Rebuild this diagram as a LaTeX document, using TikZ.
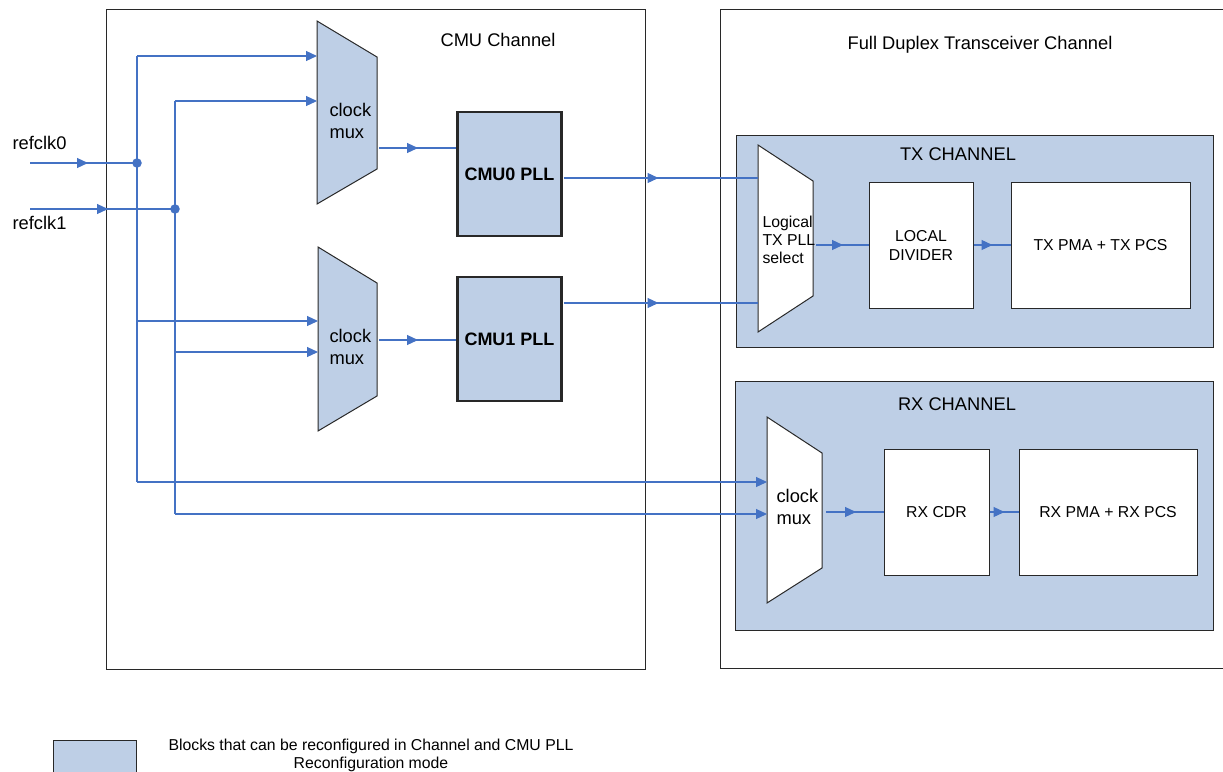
\documentclass[tikz,border=0pt]{standalone}
\usepackage{fontspec}
\setmainfont{Liberation Sans}
\usetikzlibrary{arrows.meta,decorations.markings}
\definecolor{blk}{RGB}{190,207,230}
\definecolor{wire}{RGB}{68,114,196}
\definecolor{edge}{RGB}{40,40,40}
\tikzset{
  big/.style={font=\fontsize{18.3}{22}\selectfont},
  small/.style={font=\fontsize{15.8}{19}\selectfont},
  frame/.style={draw=edge,line width=1pt},
  blkfill/.style={fill=blk,draw=edge,line width=1pt},
  wbox/.style={fill=white,draw=edge,line width=1pt},
  plbox/.style={fill=blk,draw=edge,line width=2.5pt},
  wireline/.style={draw=wire,line width=1.2pt},
  endarr/.style={wireline,-{Triangle[length=11pt,width=10pt]}},
  midarr/.style={wireline,postaction={decorate},decoration={markings,mark=at position #1 with {\arrow{Triangle[length=11pt,width=10pt]}}}},
  jdot/.style={circle,fill=wire,draw=none,inner sep=0pt,minimum size=9.5pt},
}
\begin{document}
\begin{tikzpicture}[x=1pt,y=-1pt]
\useasboundingbox (0,0) rectangle (1223,771);
\begin{scope}
\clip (0,0) rectangle (1223,771);
% outer frames
\draw[frame] (106,9) rectangle (645,669);
\draw[frame] (720,9) rectangle (1240,668);
\node[big] (cmuT) at (498,40) {CMU Channel};
\node[big] (fdT) at (980,45) {Full Duplex Transceiver Channel};

% TX channel
\draw[blkfill] (736,135) rectangle (1213,347);
\node[big] (txT) at (958,154) {TX CHANNEL};
\draw[wbox] (758,145) -- (813,181) -- (813,296) -- (758,332) -- cycle;
\node[small,align=left,anchor=west] (lsel) at (759,240) {Logical\\[-1pt]TX PLL\\[-0.5pt]select};
\node[wbox,small,minimum width=104pt,minimum height=126pt,align=center] (ldiv) at (921,245) {LOCAL\\[0pt]DIVIDER};
\node[wbox,small,minimum width=179pt,minimum height=126pt] (txpma) at (1100.5,245) {TX PMA + TX PCS};
\coordinate (lselout) at (816,245);
\draw[midarr=27pt] (lselout) -- (ldiv.west);
\draw[midarr=19pt] (ldiv.east) -- (txpma.west);

% RX channel
\draw[blkfill] (735,381) rectangle (1213,630);
\node[big] (rxT) at (957,404) {RX CHANNEL};
\draw[wbox] (767,417) -- (822,453) -- (822,568) -- (767,603) -- cycle;
\node[big,align=left,anchor=west] (rxmuxT) at (773,507) {clock\\mux};
\node[wbox,small,minimum width=105pt,minimum height=126pt] (cdr) at (936.5,512) {RX CDR};
\node[wbox,small,minimum width=178pt,minimum height=126pt] (rxpma) at (1108,512) {RX PMA + RX PCS};
\coordinate (rxmuxout) at (826,512);
\draw[midarr=30pt] (rxmuxout) -- (cdr.west);
\draw[midarr=15pt] (cdr.east) -- (rxpma.west);

% CMU muxes
\draw[blkfill] (317,21) -- (377,57) -- (377,169) -- (317,204) -- cycle;
\node[big,align=left,anchor=west] (m0T) at (326,121) {clock\\mux};
\draw[blkfill] (318,247) -- (377,283) -- (377,396) -- (318,431) -- cycle;
\node[big,align=left,anchor=west] (m1T) at (326,347) {clock\\mux};
% PLLs
\node[plbox,font=\fontsize{18}{22}\selectfont\bfseries,minimum width=104pt,minimum height=124pt] (pll0) at (509.5,174) {CMU0 PLL};
\node[plbox,font=\fontsize{18}{22}\selectfont\bfseries,minimum width=104pt,minimum height=124pt] (pll1) at (509.5,339) {CMU1 PLL};
\coordinate (m0out) at (379,148);
\coordinate (m1out) at (379,340);
\draw[midarr=39pt] (m0out) -- (m0out -| pll0.west);
\draw[midarr=39pt] (m1out) -- (m1out -| pll1.west);
% PLL outputs to logical select
\coordinate (p0o) at (563.5,178);
\coordinate (p1o) at (563.5,303);
\draw[midarr=95pt] (p0o) -- (758,178);
\draw[midarr=95pt] (p1o) -- (758,303);

% reference clocks
\node[big,anchor=west] (r0T) at (9,143) {refclk0};
\node[big,anchor=west] (r1T) at (9,223) {refclk1};
\coordinate (r0in) at (30,163);
\coordinate (r1in) at (30,209);
\coordinate (j0c) at (137,163);
\coordinate (j1c) at (175,209);
\draw[midarr=58pt] (r0in) -- (j0c);
\draw[midarr=78pt] (r1in) -- (j1c);
% bus lines
\coordinate (a0) at (137,56);
\coordinate (a1) at (175,101);
\coordinate (b0) at (137,321);
\coordinate (b1) at (175,352);
\coordinate (c0) at (137,482);
\coordinate (c1) at (175,514);
\draw[wireline] (a0) -- (c0);
\draw[wireline] (a1) -- (c1);
\draw[endarr] (a0) -- (317,56);
\draw[endarr] (a1) -- (317,101);
\draw[endarr] (b0) -- (318,321);
\draw[endarr] (b1) -- (318,352);
\draw[endarr] (c0) -- (767,482);
\draw[endarr] (c1) -- (767,514);
\node[jdot] (j0) at (j0c) {};
\node[jdot] (j1) at (j1c) {};

% legend
\draw[blkfill] (53,740) rectangle (136,776);
\node[align=center,font=\fontsize{15.8}{18}\selectfont] (legT) at (371,755) {Blocks that can be reconfigured in Channel and CMU PLL\\Reconfiguration mode};
\end{scope}
\end{tikzpicture}
\end{document}
